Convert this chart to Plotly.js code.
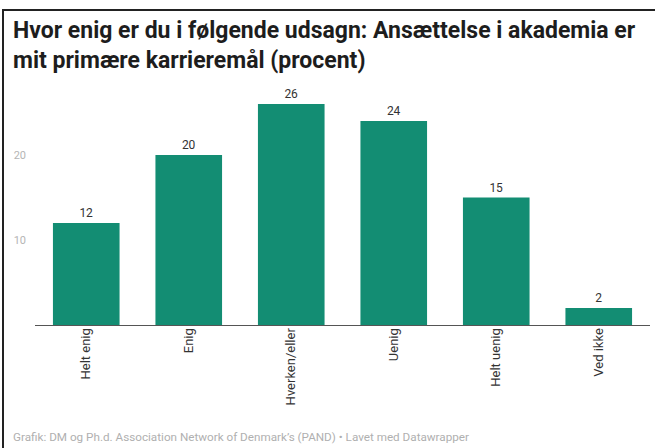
<!DOCTYPE html>
<html>
<head>
<meta charset="utf-8">
<script src="https://cdn.plot.ly/plotly-3.0.1.min.js"></script>
<style>
  body { margin: 0; background: #fff; }
  #chart { width: 655px; height: 448px; position: absolute; left: 0; top: 0; }
  #frame {
    position: absolute; left: 2px; top: 9px; width: 660px; height: 450px;
    border-top: 2px solid #222; border-left: 2px solid #222;
    pointer-events: none;
  }
</style>
</head>
<body>
<div id="chart"></div>
<div id="frame"></div>
<script>
// Answers (procent)
const categories = ['Helt enig', 'Enig', 'Hverken/eller', 'Uenig', 'Helt uenig', 'Ved ikke'];
const values = [12, 20, 26, 24, 15, 2];
const yTicks = [10, 20];

const titleLines = [
    'Hvor enig er du i følgende udsagn: Ansættelse i akademia er',
    'mit primære karrieremål (procent)'
];
const footer = 'Grafik: DM og Ph.d. Association Network of Denmark\u2019s (PAND) \u2022 Lavet med Datawrapper';

const barColor = '#138d73';
const fontFamily = 'Roboto, "Noto Sans", sans-serif';

// plot box in pixels, used to place the text outside it
const L = 35, T = 87, W = 615, H = 238;
const px2x = px => (px - L) / W;
const py2y = py => (T + H - py) / H;

const trace = {
    type: 'bar',
    x: categories,
    y: values,
    marker: { color: barColor },
    text: values.map(String),
    textposition: 'outside',
    cliponaxis: false,
    textfont: { family: fontFamily, size: 12, color: '#333' },
    hoverinfo: 'skip'
};

const annotations = [{
    text: '<b>' + titleLines.join('<br>') + '</b>',
    xref: 'paper', yref: 'paper',
    x: px2x(11), y: py2y(46),
    xanchor: 'left', yanchor: 'middle', align: 'left',
    showarrow: false,
    font: { family: fontFamily, size: 23, color: '#1d1d1d' }
}, {
    text: footer,
    xref: 'paper', yref: 'paper',
    x: px2x(11), y: py2y(437),
    xanchor: 'left', yanchor: 'middle',
    showarrow: false,
    font: { family: fontFamily, size: 11.7, color: '#b0b0b0' }
}];

const layout = {
    width: 655,
    height: 448,
    margin: { l: L, r: 655 - L - W, t: T, b: 448 - T - H },
    paper_bgcolor: '#fff',
    plot_bgcolor: '#fff',
    font: { family: fontFamily, color: '#333' },
    showlegend: false,
    bargap: 0.35,
    xaxis: {
        type: 'category',
        range: [-0.5, 5.5],
        tickangle: -90,
        tickfont: { family: fontFamily, size: 13, color: '#333' },
        ticklabelstandoff: -3,
        showline: true,
        linecolor: '#555',
        linewidth: 1,
        ticks: '',
        showgrid: false,
        zeroline: false,
        fixedrange: true
    },
    yaxis: {
        range: [0, 28],
        tickvals: yTicks,
        ticktext: yTicks.map(String),
        tickfont: { family: fontFamily, size: 11, color: '#b5b5b5' },
        ticklabelstandoff: 8,
        ticks: '',
        showgrid: false,
        zeroline: false,
        showline: false,
        fixedrange: true
    },
    annotations: annotations
};

Plotly.newPlot('chart', [trace], layout, { displayModeBar: false, staticPlot: true });
</script>
</body>
</html>
